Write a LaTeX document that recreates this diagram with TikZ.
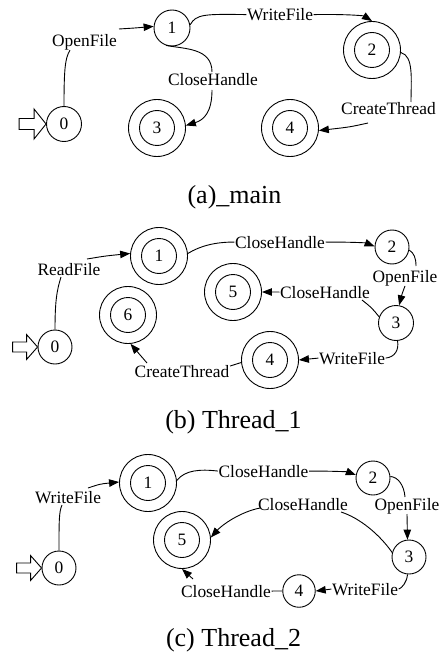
\documentclass[tikz,border=0pt]{standalone}
\usepackage{fontspec}
\setmainfont{Liberation Serif}
\usetikzlibrary{arrows.meta,calc}
\begin{document}
\begin{tikzpicture}[x=1pt,y=-1pt,
  every node/.style={font=\fontsize{17.4}{20}\selectfont},
  st/.style={circle,draw,line width=0.9pt,minimum size=34pt,inner sep=0pt},
  acc/.style={circle,draw,line width=0.9pt,minimum size=57pt,inner sep=0pt,
    path picture={\draw[line width=0.9pt] (path picture bounding box.center) circle[radius=17.5pt];}},
  lbl/.style={inner sep=0.5pt,anchor=base},
  ln/.style={line width=0.9pt},
  arr/.style={line width=0.9pt,-{Triangle[length=10pt,width=7.5pt]}},
  startarr/.style={draw,line width=0.9pt,fill=white},
  captext/.style={font=\fontsize{26}{30}\selectfont,anchor=base,inner sep=0pt}
]
\useasboundingbox (0,0) rectangle (440,655);

% ---------------- (a) main ----------------
\node[st,minimum size=35pt] (a0) at (64,124) {0};
\node[st,minimum size=36pt] (a1) at (172,28) {1};
\node[acc] (a2) at (372,50) {2};
\node[acc] (a3) at (157,128) {3};
\node[acc] (a4) at (290,128) {4};
\node[lbl] (la01) at (84.5,46.7) {OpenFile};
\node[lbl] (la12) at (280,20.5) {WriteFile};
\node[lbl] (la13) at (213,86) {CloseHandle};
\node[lbl] (la24) at (388.5,115) {CreateThread};

\draw[startarr] (a0.west) -- ++(-12,-15) -- ++(0,9.5) -- ++(-15,0) -- ++(0,11) -- ++(15,0) -- ++(0,9.5) -- cycle;

\draw[ln] (a0.north) .. controls (64,70) and (65,58) .. ($(la01.base)+(-14.5,3.5)$);
\draw[arr] ($(la01.base)+(34.5,-17.7)$) .. controls (135,28) .. (a1.175);
\draw[ln] (a1.10) .. controls (196,14) and (205,14) .. (la12.west);
\draw[arr] (la12.east) .. controls (350,14) and (364,16) .. (a2.north);
\draw[ln] (a1.-109) .. controls (185,49) and (212,48) .. ($(la13.base)+(-1,-14)$);
\draw[arr] ($(la13.base)+(-1,4)$) .. controls (212,112) and (204,120) .. (a3.5);
\draw[ln] (a2.-5) .. controls (414,56) and (411,80) .. ($(la24.base)+(22.5,-13)$);
\draw[arr] ($(la24.base)+(-20.5,8)$) .. controls (350,127) .. (a4.-5);

\node[captext] (capa) at (234.5,203.5) {(a)\_main};

% ---------------- (b) Thread_1 ----------------
\node[st] (b0) at (55,347) {0};
\node[acc] (b1) at (159,256) {1};
\node[st] (b2) at (392,247) {2};
\node[st,minimum size=35pt] (b3) at (396,323) {3};
\node[acc] (b4) at (270,360) {4};
\node[acc] (b5) at (233,292) {5};
\node[acc] (b6) at (128,315) {6};
\node[lbl] (lb01) at (69,275) {ReadFile};
\node[lbl] (lb12) at (280,248) {CloseHandle};
\node[lbl] (lb23) at (405,282) {OpenFile};
\node[lbl] (lb35) at (325,298) {CloseHandle};
\node[lbl] (lb34) at (352,364) {WriteFile};
\node[lbl] (lb46) at (182,377) {CreateThread};

\draw[startarr] (b0.west) -- ++(-11,-12.5) -- ++(0,7.5) -- ++(-14,0) -- ++(0,10) -- ++(14,0) -- ++(0,7.5) -- cycle;

\draw[ln] (b0.north) .. controls (55,300) and (57,290) .. ($(lb01.base)+(-8,2)$);
\draw[arr] ($(lb01.base)+(18,-16)$) .. controls (105,256) .. (b1.175);
\draw[ln] (b1.5) .. controls (200,246) and (215,242) .. (lb12.west);
\draw[arr] (lb12.east) .. controls (355,242) and (366,243) .. (b2.178);
\draw[ln] (b2.-10) .. controls (414,253) and (416,258) .. ($(lb23.base)+(11,-16)$);
\draw[arr] ($(lb23.base)+(0,4)$) .. controls (402,294) .. (b3.80);
\draw[ln] (b3.160) .. controls (372,308) .. ($(lb35.base)+(37,2)$);
\draw[arr] (lb35.west) -- (b5.east);
\draw[ln] (b3.-85) .. controls (399,350) and (395,357) .. (lb34.east);
\draw[arr] (lb34.west) -- (b4.east);
\draw[ln] (b4.185) -- ($(lb46.east)+(0,-5)$);
\draw[arr] ($(lb46.base)+(-35,-14)$) -- (b6.-85);

\node[captext] (capb) at (233.5,428.5) {(b) Thread\_1};

% ---------------- (c) Thread_2 ----------------
\node[st] (c0) at (59,568) {0};
\node[acc] (c1) at (148,483) {1};
\node[st] (c2) at (373,478) {2};
\node[st] (c3) at (409,557) {3};
\node[st,minimum size=32.5pt] (c4) at (299,591) {4};
\node[acc] (c5) at (182,540) {5};
\node[lbl] (lc01) at (68,503) {WriteFile};
\node[lbl] (lc12) at (263.5,477) {CloseHandle};
\node[lbl] (lc23) at (407,510) {OpenFile};
\node[lbl] (lc35) at (303,510) {CloseHandle};
\node[lbl] (lc34) at (365,595) {WriteFile};
\node[lbl] (lc45) at (226,597) {CloseHandle};

\draw[startarr] (c0.west) -- ++(-11,-12.5) -- ++(0,7.5) -- ++(-14,0) -- ++(0,10) -- ++(14,0) -- ++(0,7.5) -- cycle;

\draw[ln] (c0.north) .. controls (59,520) and (59,512) .. ($(lc01.base)+(-6,2)$);
\draw[arr] ($(lc01.base)+(20,-15)$) .. controls (100,484) .. (c1.178);
\draw[ln] (c1.5) .. controls (185,470) and (200,469) .. (lc12.west);
\draw[arr] (lc12.east) .. controls (335,471) and (348,472) .. (c2.170);
\draw[ln] (c2.5) .. controls (398,477) and (404,485) .. ($(lc23.base)+(-2,-13)$);
\draw[arr] ($(lc23.base)+(0,4)$) -- (c3.95);
\draw[ln] (c3.165) .. controls (380,535) and (360,518) .. ($(lc35.base)+(38,2)$);
\draw[arr] ($(lc35.base)+(-43,-2)$) .. controls (240,512) and (222,525) .. (c5.5);
\draw[ln] (c3.-95) .. controls (407,582) and (402,588) .. (lc34.east);
\draw[arr] (lc34.west) -- (c4.east);
\draw[ln] (c4.west) -- (lc45.east);
\draw[arr] ($(lc45.base)+(-33,-18)$) -- (c5.-90);

\node[captext] (capc) at (233.5,646) {(c) Thread\_2};
\end{tikzpicture}
\end{document}
